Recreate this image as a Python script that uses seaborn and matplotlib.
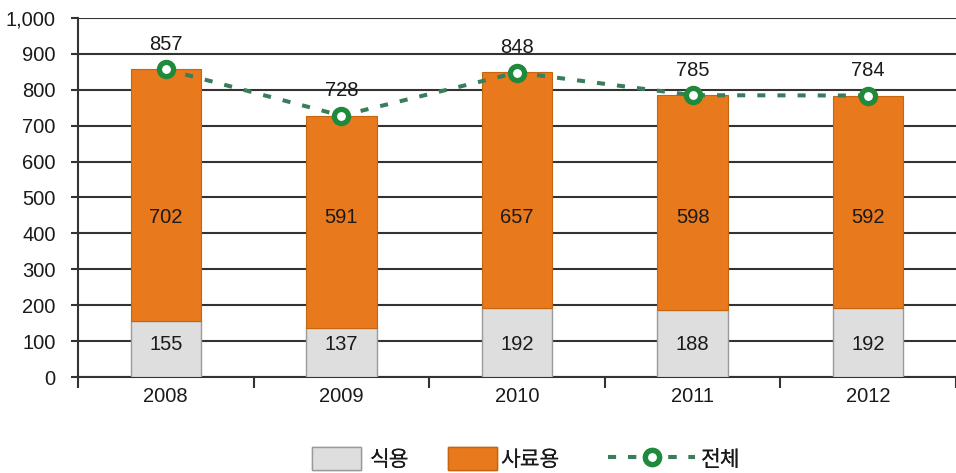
import matplotlib
matplotlib.use("Agg")
import matplotlib.pyplot as plt
import seaborn as sns
import pandas as pd
from matplotlib.patches import Patch
from matplotlib.lines import Line2D

# chart data
years = ['2008', '2009', '2010', '2011', '2012']
food = [155, 137, 192, 188, 192]        # 식용
feed = [702, 591, 657, 598, 592]        # 사료용
total = [857, 728, 848, 785, 784]       # 전체

sns.set_theme(style="white")
plt.rcParams['font.family'] = ['Liberation Sans', 'Noto Sans CJK KR']

food_color = '#dedede'
feed_color = '#e8791c'
line_color = '#3a7d5a'
marker_color = '#1f8a3c'
grid_color = '#333333'
text_color = '#1a1a1a'
num_size = 14.5

df = pd.DataFrame({'year': years, 'food': food, 'feed': feed, 'total': total})

fig = plt.figure(figsize=(9.56, 4.73), dpi=100)
ax = fig.add_axes([78 / 956, 1 - 377 / 473, 1 - 78 / 956, (377 - 18) / 473])

# stacked bars
sns.barplot(data=df, x='year', y='food', color=food_color, saturation=1, width=0.4,
            edgecolor='#9a9a9a', linewidth=1.0, ax=ax, zorder=3)
sns.barplot(data=df, x='year', y='feed', bottom=df['food'], color=feed_color,
            saturation=1, width=0.4, edgecolor='#c4650f', linewidth=0.8, ax=ax, zorder=3)

# total line
pos = list(range(len(years)))
line_kw = dict(color=line_color, linestyle=(0, (2, 3)), linewidth=2.9,
               marker='o', markersize=10.2, markerfacecolor='white',
               markeredgecolor=marker_color, markeredgewidth=3.8)
ax.plot(pos, df['total'], zorder=5, **line_kw)

# value labels (inner labels sit at fixed heights like the original)
for i in pos:
    ax.text(i, 90, str(food[i]), ha='center', va='center',
            fontsize=num_size, color=text_color, zorder=6)
    ax.text(i, 445, str(feed[i]), ha='center', va='center',
            fontsize=num_size, color=text_color, zorder=6)
    ax.annotate(str(total[i]), (i, total[i]), xytext=(0, 18), textcoords='offset points',
                ha='center', va='center', fontsize=num_size, color=text_color, zorder=6)

# axes styling
ax.set_ylim(0, 1000)
ax.set_xlim(-0.5, -0.5 + (956 - 78) / 177)
ax.set_yticks(range(0, 1001, 100))
ax.set_yticklabels([f'{v:,}' for v in range(0, 1001, 100)], fontsize=num_size, color=text_color)
ax.yaxis.grid(True, color=grid_color, linewidth=1.5, zorder=0)
ax.set_axisbelow(True)

ax.set_xticks([p + 0.5 for p in range(-1, len(years))])
ax.set_xticklabels([])
ax.set_xticks(pos, minor=True)
ax.set_xticklabels(years, minor=True, fontsize=num_size, color=text_color)
ax.tick_params(axis='x', which='major', direction='out', length=8, width=1.5,
               color=grid_color, bottom=True)
ax.tick_params(axis='x', which='minor', length=0, pad=7)
ax.tick_params(axis='y', direction='out', length=5, width=1.5, color=grid_color,
               left=True, pad=11)
ax.set_xlabel('')
ax.set_ylabel('')

for s in ['top', 'right']:
    ax.spines[s].set_visible(False)
for s in ['left', 'bottom']:
    ax.spines[s].set_color(grid_color)
    ax.spines[s].set_linewidth(1.5)

# legend: three single-entry legends so each handle can have its own length
leg_size = 15.5
leg_px = leg_size * 100 / 72
leg_y = 1 - 459 / 473
legend_items = [
    (Patch(facecolor=food_color, edgecolor='#9a9a9a', label='식용'), 312, 49, 9),
    (Patch(facecolor=feed_color, edgecolor='#c4650f', label='사료용'), 448, 49, 3),
    (Line2D([0], [0], label='전체', **line_kw), 608, 87, 6),
]
for handle, x_px, hlen_px, hpad_px in legend_items:
    leg = fig.legend(handles=[handle], loc='center left',
                     bbox_to_anchor=(x_px / 956, leg_y), frameon=False, fontsize=leg_size,
                     handlelength=hlen_px / leg_px, handleheight=26 / leg_px,
                     handletextpad=hpad_px / leg_px, borderpad=0, borderaxespad=0)
    for t in leg.get_texts():
        t.set_color(text_color)
    fig.add_artist(leg)

fig.savefig('out.png', dpi=100)
